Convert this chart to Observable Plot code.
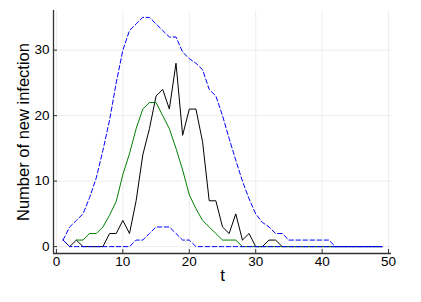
<!DOCTYPE html>
<html><head><meta charset="utf-8">
<script src="https://cdn.jsdelivr.net/npm/d3@7"></script>
<script src="https://cdn.jsdelivr.net/npm/@observablehq/plot@0.6"></script>
<style>body{margin:0;background:#fff} #chart svg{display:block;background:#fff}</style>
</head><body><div id="chart"></div>
<script>
const days = [1,2,3,4,5,6,7,8,9,10,11,12,13,14,15,16,17,18,19,20,21,22,23,24,25,26,27,28,29,30,31,32,33,34,35,36,37,38,39,40,41,42,43,44,45,46,47,48,49];
const observed = [1,0,1,0,0,0,0,2,2,4,2,7,14,18,23,24,21,28,17,21,21,16,7,7,3,2,5,1,2,0,0,1,1,0,0,0,0,0,0,0,0,0,0,0,0,0,0,0,0];
const meanDays = [3,4,5,6,7,8,9,10,11,12,13,14,15,16,17,18,19,20,21,22,23,24,25,26,27,28,29,30,31,32,33,34,35,36,37,38,39,40,41,42,43,44,45,46,47,48,49];
const meanVals = [1,1,2,2,3,4.8,6.9,11,14.2,18,21,22,22,20,18,15,11.7,7.9,5.8,4,3,2,1,1,1,0,0,0,0,0,0,0,0,0,0,0,0,0,0,0,0,0,0,0,0,0,0];
const upper = [1,3,4,5,7.5,10.5,14.7,19.3,25,30,33,34,35,35,34,33,32,32,29.7,28.7,28,27,24,23,20,16.5,13.2,10,7.3,5,3.7,3,2,2,1,1,1,1,1,1,1,0,0,0,0,0,0,0,0];
const lower = [1,0,0,0,0,0,0,0,0,0,0,1,1,2,3,3,3,2,1,1,0,0,0,0,0,0,0,0,0,0,0,0,0,0,0,0,0,0,0,0,0,0,0,0,0,0,0,0,0];
const xTicks = [0,10,20,30,40,50];
const yTicks = [0,10,20,30];
const xDomain = [-0.44, 50.44];
const yDomain = [-1.05, 36.05];
const xLabel = "t";
const yLabel = "Number of new infection";

const obsData = days.map((t,i) => ({t, v: observed[i]}));
const meanData = meanDays.map((t,i) => ({t, v: meanVals[i]}));
const upData = days.map((t,i) => ({t, v: upper[i]}));
const loData = days.map((t,i) => ({t, v: lower[i]}));

const font = "'Liberation Sans', Arial, Helvetica, sans-serif";
const chart = Plot.plot({
  width: 421, height: 302,
  marginLeft: 53, marginRight: 30, marginTop: 10, marginBottom: 49,
  x: {domain: xDomain},
  y: {domain: yDomain},
  style: {fontFamily: font, fontSize: "13px", color: "#000", background: "#fff"},
  marks: [
    Plot.gridX(xTicks, {stroke: "#000", strokeOpacity: 0.07, strokeWidth: 1}),
    Plot.gridY(yTicks, {stroke: "#000", strokeOpacity: 0.07, strokeWidth: 1}),
    Plot.line(obsData, {x: "t", y: "v", stroke: "#000", strokeWidth: 1}),
    Plot.line(meanData, {x: "t", y: "v", stroke: "#008000", strokeWidth: 1}),
    Plot.line(upData, {x: "t", y: "v", stroke: "#0000ff", strokeWidth: 1, strokeDasharray: "4.5,2.5"}),
    Plot.line(loData, {x: "t", y: "v", stroke: "#0000ff", strokeWidth: 1, strokeDasharray: "4.5,2.5"}),
    Plot.ruleY([yDomain[0]], {stroke: "#333", strokeWidth: 1.3}),
    Plot.ruleX([xDomain[0]], {stroke: "#333", strokeWidth: 1.3}),
    Plot.axisX(xTicks, {tickSize: -4, tickFormat: () => "", label: null, stroke: "#333"}),
    Plot.axisY(yTicks, {tickSize: -4, tickFormat: () => "", label: null, stroke: "#333"}),
    Plot.axisX(xTicks, {tickSize: 0, tickPadding: 3, label: null, fontSize: 13.5}),
    Plot.axisY(yTicks, {tickSize: 0, tickPadding: 4, label: null, fontSize: 13.5}),
    Plot.text([xLabel], {frameAnchor: "bottom", dy: 27, fontSize: 17, fill: "#000"}),
    Plot.text([yLabel], {frameAnchor: "left", textAnchor: "middle", rotate: -90, dx: -30, fontSize: 16.5, fill: "#000"})
  ]
});
document.getElementById("chart").appendChild(chart);
</script>
</body></html>
